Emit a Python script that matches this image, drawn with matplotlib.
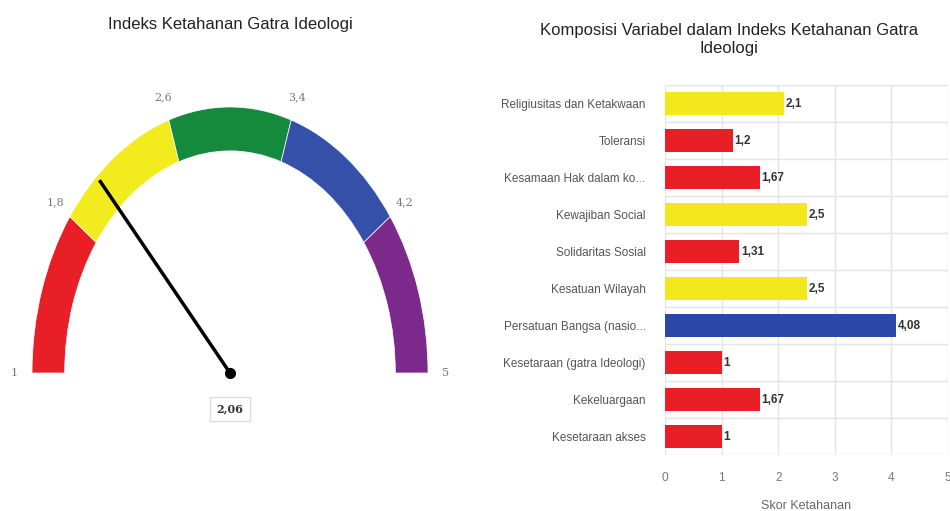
import numpy as np
import matplotlib.pyplot as plt
from matplotlib.patches import Wedge

# gauge data
gauge_bounds = [1, 1.8, 2.6, 3.4, 4.2, 5]
gauge_colors = ['#e81f27', '#f2ec1f', '#168a3c', '#3450a8', '#7b2a8c']
gauge_value = 2.06

# bar data
categories = ['Religiusitas dan Ketakwaan', 'Toleransi', 'Kesamaan Hak dalam ko...',
              'Kewajiban Social', 'Solidaritas Sosial', 'Kesatuan Wilayah',
              'Persatuan Bangsa (nasio...', 'Kesetaraan (gatra Ideologi)',
              'Kekeluargaan', 'Kesetaraan akses']
scores = [2.1, 1.2, 1.67, 2.5, 1.31, 2.5, 4.08, 1, 1.67, 1]
bar_colors = ['#f2e81c', '#e81f27', '#e81f27', '#f2e81c', '#e81f27',
              '#f2e81c', '#2b48a6', '#e81f27', '#e81f27', '#e81f27']
x_ticks = [0, 1, 2, 3, 4, 5]

plt.rcParams['font.family'] = ['Liberation Sans', 'DejaVu Sans']


def comma(v):
    return ('%g' % v).replace('.', ',')


def val_to_angle(v):
    return 180 - (v - gauge_bounds[0]) / (gauge_bounds[-1] - gauge_bounds[0]) * 180


fig = plt.figure(figsize=(9.5, 5.11), dpi=100)

# ---- gauge ----
W, H = 950, 511
cx, cy, rx, ry = 230, 373, 198, 266
top, bottom, left, right = 60, 440, 0, 460
ax = fig.add_axes([left / W, (H - bottom) / H, (right - left) / W, (bottom - top) / H])
ax.set_xlim((left - cx) / rx, (right - cx) / rx)
ax.set_ylim(-(bottom - cy) / ry, (cy - top) / ry)
ax.axis('off')

for i in range(len(gauge_colors)):
    a1 = val_to_angle(gauge_bounds[i + 1])
    a2 = val_to_angle(gauge_bounds[i])
    ax.add_patch(Wedge((0, 0), 1.0, a1, a2, width=0.165,
                       facecolor=gauge_colors[i], edgecolor='white', linewidth=0.5))

for b in gauge_bounds:
    t = np.radians(val_to_angle(b))
    ax.text(1.09 * np.cos(t), 1.09 * np.sin(t), comma(b), ha='center', va='center',
            fontsize=8, color='#777777', family='DejaVu Serif')

t = np.radians(val_to_angle(gauge_value))
ax.plot([0, 0.98 * np.cos(t)], [0, 0.98 * np.sin(t)], color='black', lw=2.5,
        solid_capstyle='butt')
ax.plot(0, 0, 'o', color='black', markersize=7)
ax.text(0, -0.135, comma(gauge_value), ha='center', va='center', fontsize=8,
        fontweight='bold', family='DejaVu Serif', color='#333333',
        bbox=dict(boxstyle='square,pad=0.6', facecolor='white', edgecolor='#dddddd', lw=1))

fig.text(230 / W, 1 - 25 / H, 'Indeks Ketahanan Gatra Ideologi', ha='center', va='center',
         fontsize=12, color='#222222')

# ---- bars ----
bx0, bx1, by0, by1 = 665, 948, 85, 455
bx = fig.add_axes([bx0 / W, (H - by1) / H, (bx1 - bx0) / W, (by1 - by0) / H])
y = np.arange(len(categories))
bx.barh(y, scores, height=0.62, color=bar_colors, zorder=3)
for yi, s in zip(y, scores):
    bx.text(s + 0.03, yi, comma(s), va='center', ha='left', fontsize=8.5,
            fontweight='bold', color='#333333', zorder=4)
bx.set_xlim(0, 5)
bx.set_ylim(len(categories) - 0.5, -0.5)
bx.set_xticks(x_ticks)
bx.set_xticklabels([str(v) for v in x_ticks])
bx.set_yticks(y)
bx.set_yticklabels(categories)
bx.set_yticks(np.arange(-0.5, len(categories), 1), minor=True)
bx.grid(True, which='minor', axis='y', color='#e4e4e4', lw=1, zorder=0)
bx.grid(True, which='major', axis='x', color='#e4e4e4', lw=1, zorder=0)
bx.tick_params(axis='y', which='both', length=0, pad=14, labelsize=8.5, labelcolor='#555555')
bx.tick_params(axis='x', length=0, pad=12, labelsize=8.5, labelcolor='#777777')
for sp in bx.spines.values():
    sp.set_visible(False)
bx.set_xlabel('Skor Ketahanan', fontsize=9, color='#666666', labelpad=12)

fig.text(729 / W, 1 - 30 / H, 'Komposisi Variabel dalam Indeks Ketahanan Gatra',
         ha='center', va='center', fontsize=12, color='#222222')
fig.text(729 / W, 1 - 49 / H, 'Ideologi', ha='center', va='center', fontsize=12,
         color='#222222')

fig.savefig('out.png', dpi=100, facecolor='white')
